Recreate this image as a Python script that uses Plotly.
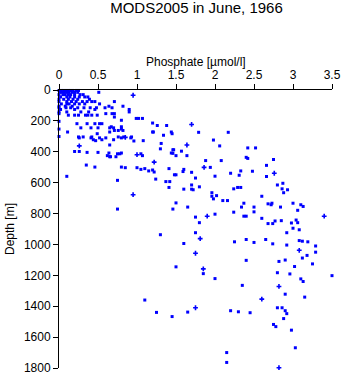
import plotly.graph_objects as go

# Phosphate profile samples (µmol/l vs depth in m), June 1966
phos_sq = [
    0.00, 0.03, 0.06, 0.09, 0.12, 0.15, 0.18, 0.22, 0.25,
    0.01, 0.04, 0.07, 0.10, 0.13, 0.17, 0.20, 0.24, 0.51,
    0.00, 0.05, 0.08, 0.12, 0.15, 0.20, 0.27, 0.31,
    0.02, 0.10, 0.14, 0.20, 0.26, 0.33, 0.37,
    0.00, 0.06, 0.12, 0.18, 0.24, 0.39,
    0.00, 0.10, 0.16, 0.22, 0.30, 0.36, 0.42, 0.46, 0.71,
    0.03, 0.10, 0.13, 0.20, 0.26, 0.33, 0.52,
    0.00, 0.08, 0.17, 0.64, 0.82,
    0.00, 0.09, 0.15, 0.24, 0.32, 0.40, 0.48, 0.59, 0.68,
    0.46, 0.90, 0.02, 0.20,
    0.10, 0.90, 0.00, 0.28, 0.38,
    0.00, 0.60, 0.68, 0.71,
    0.20, 0.34, 0.37, 0.42, 0.49, 0.12, 0.25,
    0.71, 0.99, 1.02, 1.07, 0.80, 0.00, 1.20,
    0.23, 0.36, 0.46, 0.52, 0.55,
    1.26, 1.38, 0.67, 0.80,
    0.28, 0.41, 0.50, 0.65, 0.70,
    0.80, 0.00, 0.82, 0.71, 0.76,
    0.11, 0.65, 1.20, 1.44, 1.21, 0.49, 1.45, 1.34, 0.00,
    0.42, 0.25, 0.31, 0.83, 0.93, 0.76,
    0.41, 0.52, 0.60, 0.26, 0.80, 0.92,
    0.44, 0.55, 0.70, 0.47, 1.08, 0.96, 1.31, 0.65,
    1.30, 1.46, 0.20, 0.26, 0.36, 0.50,
    0.80, 1.44, 0.64, 0.75, 0.78, 1.05,
    1.07, 1.50, 0.62, 0.73, 0.65, 0.66,
    0.35, 0.46, 0.80, 1.00, 0.85, 1.10, 1.41, 1.05, 1.20, 1.15, 1.22,
    1.48, 1.50, 0.10, 1.24, 0.75, 1.37, 1.42, 1.41, 1.50, 0.75, 1.46,
    1.30, 1.50, 1.10, 1.25, 1.45,
    1.79, 2.17, 1.98, 2.06, 1.47, 1.57, 1.46, 1.64, 2.42, 2.52,
    2.40, 2.42, 1.88, 2.08, 2.75, 1.60, 1.59, 1.94, 1.70, 1.75,
    2.00, 2.20, 2.31, 2.48, 2.33, 2.66, 2.66, 1.70, 1.60, 1.70,
    1.72, 1.80, 1.96, 1.96, 1.98, 2.02, 2.10, 2.16, 2.24, 2.29,
    2.33, 2.37, 2.34, 2.50, 2.60, 2.68, 2.72, 2.73, 2.80, 2.86,
    2.87, 2.88, 2.93, 3.00, 3.10, 3.13, 2.84, 3.06, 2.24, 2.37,
    2.40, 2.50, 2.60, 1.65, 1.75, 2.00, 1.80, 1.75, 2.68, 2.74,
    2.77, 2.85, 2.98, 3.04, 3.06, 3.00, 3.08, 2.92,
    1.60, 1.85, 2.00, 2.25, 2.40, 2.50, 2.65, 2.74, 2.92, 2.40,
    2.35, 2.80, 2.82, 2.90, 2.96, 3.02, 2.90, 3.08, 3.12, 3.12,
    3.18, 3.19, 3.29, 3.29, 3.25, 3.10, 3.13, 3.15, 3.50, 1.65,
    2.20, 2.30, 2.45, 2.80, 2.86, 2.90, 2.92, 2.88, 2.75, 2.78,
    2.98, 3.03, 2.15, 2.15,
]
depth_sq = [
    3, 3, 3, 3, 3, 3, 3, 3, 3,
    15, 15, 15, 15, 15, 15, 15, 15, 15,
    30, 30, 30, 30, 30, 30, 30, 30,
    45, 45, 45, 45, 45, 45, 45,
    60, 60, 60, 60, 60, 60,
    75, 75, 75, 75, 75, 75, 75, 75, 75,
    90, 90, 90, 90, 90, 90, 90,
    105, 105, 105, 105, 105,
    115, 115, 115, 115, 115, 115, 115, 115, 115,
    126, 126, 126, 126,
    142, 142, 142, 142, 142,
    153, 153, 153, 153,
    163, 163, 163, 163, 163, 163, 163,
    175, 184, 184, 184, 196, 203, 214,
    218, 218, 218, 218, 218,
    230, 230, 238, 238,
    245, 245, 245, 245, 245,
    253, 253, 262, 262, 262,
    272, 272, 272, 272, 272, 283, 283, 293, 301,
    304, 304, 304, 304, 304, 304,
    310, 310, 310, 310, 310, 310,
    322, 322, 322, 328, 328, 330, 346, 356,
    381, 387, 398, 398, 404, 404,
    408, 408, 408, 413, 413, 413,
    425, 425, 425, 432, 432, 432,
    486, 499, 499, 503, 503, 509, 509, 514, 518, 524, 531,
    549, 549, 559, 577, 585, 593, 593, 631, 731, 771, 771,
    937, 1145, 1360, 1440, 1467,
    274, 274, 324, 362, 387, 396, 410, 425, 375, 375,
    436, 443, 457, 457, 450, 514, 528, 501, 533, 570,
    558, 539, 552, 526, 524, 488, 560, 615, 642, 642,
    646, 627, 665, 688, 705, 684, 716, 716, 640, 631,
    631, 733, 758, 758, 688, 737, 743, 733, 615, 640,
    604, 665, 646, 733, 743, 754, 758, 779, 791, 817,
    817, 789, 831, 758, 823, 804, 859, 924, 865, 865,
    848, 846, 861, 842, 859, 895, 905, 924,
    994, 1189, 1221, 983, 968, 987, 968, 996, 1004, 1103,
    1265, 1183, 1110, 1101, 1191, 1143, 1322, 975, 979, 1088,
    1071, 983, 1010, 1050, 1126, 1223, 1240, 1341, 1202, 1438,
    1429, 1436, 1442, 1410, 1410, 1429, 1448, 1480, 1518, 1532,
    1555, 1669, 1700, 1764,
]

phos_cross = [0.95, 0.26, 1.00, 1.22, 0.95, 0.85, 1.70, 1.64, 1.86, 2.76,
              1.90, 3.40, 1.81, 1.75, 1.85, 2.60, 2.82, 3.08, 1.75, 2.82]
depth_cross = [34, 362, 419, 467, 678, 307, 223, 356, 501, 539,
               817, 817, 962, 1057, 1158, 1354, 1272, 1038, 1410, 1798]

x_ticks = [0, 0.5, 1, 1.5, 2, 2.5, 3, 3.5]
x_tick_text = ["0", "0.5", "1", "1.5", "2", "2.5", "3", "3.5"]
y_ticks = [0, 200, 400, 600, 800, 1000, 1200, 1400, 1600, 1800]

BLUE = "#0000ff"
FONT = "Liberation Sans, Arial, sans-serif"

fig = go.Figure()
fig.add_trace(go.Scatter(
    x=phos_sq, y=depth_sq, mode="markers", cliponaxis=False,
    marker=dict(symbol="square", size=3, color=BLUE, line=dict(width=0)),
    showlegend=False, hoverinfo="x+y",
))
fig.add_trace(go.Scatter(
    x=phos_cross, y=depth_cross, mode="markers", cliponaxis=False,
    marker=dict(symbol="cross", size=4, color=BLUE, line=dict(width=0)),
    showlegend=False, hoverinfo="x+y",
))

axis_common = dict(
    showgrid=False, zeroline=False, showline=True, linecolor="black",
    linewidth=1, ticks="outside", ticklen=5, tickwidth=1, tickcolor="black",
    tickfont=dict(family=FONT, size=12, color="black"),
)

fig.update_layout(
    width=350, height=384,
    margin=dict(l=54, r=11, t=90, b=9),
    paper_bgcolor="white", plot_bgcolor="white",
    font=dict(family=FONT, size=12, color="black"),
    title=dict(
        text="MODS2005 in June, 1966",
        font=dict(family=FONT, size=15, color="black"),
        x=(54 + 339) / 2 / 350, xanchor="center",
        y=1 - 8 / 384, yanchor="middle",
    ),
    xaxis=dict(
        side="top", range=[0, 3.5], tickvals=x_ticks, ticktext=x_tick_text,
        **axis_common,
    ),
    yaxis=dict(
        range=[1800, 0], tickvals=y_ticks,
        title=dict(text="Depth [m]", standoff=6,
                   font=dict(family=FONT, size=12)),
        **axis_common,
    ),
    annotations=[dict(
        text="Phosphate [µmol/l]", xref="paper", yref="paper",
        x=0.5, y=1 + 29 / 285, xanchor="center", yanchor="middle",
        showarrow=False, font=dict(family=FONT, size=12, color="black"),
    )],
)

fig.write_html("out.html")
